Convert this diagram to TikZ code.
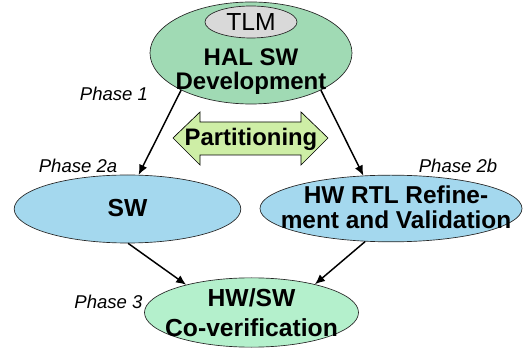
\documentclass[tikz,border=0pt]{standalone}
\usepackage{fontspec}
\setmainfont{Liberation Sans}
\usetikzlibrary{shapes.geometric,arrows.meta}

\definecolor{halgreen}{RGB}{160,218,180}
\definecolor{tlmgray}{RGB}{217,217,217}
\definecolor{swblue}{RGB}{164,216,238}
\definecolor{covgreen}{RGB}{180,240,204}
\definecolor{partgreen}{RGB}{206,238,166}

\begin{document}
\begin{tikzpicture}[x=0.75pt,y=-0.75pt,
	blob/.style={draw=black!85,ellipse,inner sep=0pt,line width=0.5pt},
	boldtext/.style={align=center,inner sep=0pt},
	phase/.style={font=\fontsize{13.9}{16}\selectfont\itshape,inner sep=0pt},
	flow/.style={-{Latex[length=7.5pt,width=6.5pt]},line width=1.1pt}]
			%%%%% START %%%%%
			\useasboundingbox (0,0) rectangle (527,348);
			
			% design phase
			\node[blob,fill=halgreen,minimum width=151.5pt,minimum height=76.5pt] (hal) at (251,53) {};
			\node[blob,fill=tlmgray,minimum width=69pt,minimum height=24pt,font=\fontsize{18.5}{20}\selectfont] (tlm) at (251,22) {TLM};
			\node[boldtext,font=\fontsize{18}{17.5}\selectfont\bfseries] (halt) at (251,71.5) {HAL SW\\Development};
			
			% partitioning arrow
			\draw[fill=partgreen,line width=0.5pt] (173,138) -- (200,112) -- (200,122) -- (301,122) -- (301,112) -- (328,138)
				-- (301,165) -- (301,155) -- (200,155) -- (200,165) -- cycle;
			\node[font=\fontsize{17.9}{20}\selectfont\bfseries,inner sep=0pt] (part) at (251,139) {Partitioning};
			
			% sw and hw
			\node[blob,fill=swblue,minimum width=170pt,minimum height=51pt] (sw) at (127.5,209) {};
			\node[boldtext,font=\fontsize{18.5}{20}\selectfont\bfseries] (swt) at (127.5,208) {SW};
			\node[blob,fill=swblue,minimum width=196.5pt,minimum height=50pt] (hw) at (391,208.5) {};
			\node[boldtext,font=\fontsize{18.3}{19}\selectfont\bfseries] (hwt) at (396,207) {HW RTL Refine-\\ment and Validation};
			
			% co-verification
			\node[blob,fill=covgreen,minimum width=160.5pt,minimum height=52pt] (cov) at (251.5,312.5) {};
			\node[boldtext,font=\fontsize{18.5}{22.5}\selectfont\bfseries] (covt) at (251.5,313) {HW/SW\\Co-verification};
			
			% phases
			\node[phase] (p1) at (114,94) {Phase 1};
			\node[phase] (p2a) at (78,166) {Phase 2a};
			\node[phase] (p2b) at (458,166) {Phase 2b};
			\node[phase] (p3) at (108.5,302) {Phase 3};
			
			\draw[flow] (hal.208) -- (sw.72);
			\draw[flow] (hal.332) -- (hw.130);
			\draw[flow] (sw.271) -- (cov.157);
			\draw[flow] (hw.232) -- (cov.24);
			%%%%% END %%%%%
\end{tikzpicture}
\end{document}
